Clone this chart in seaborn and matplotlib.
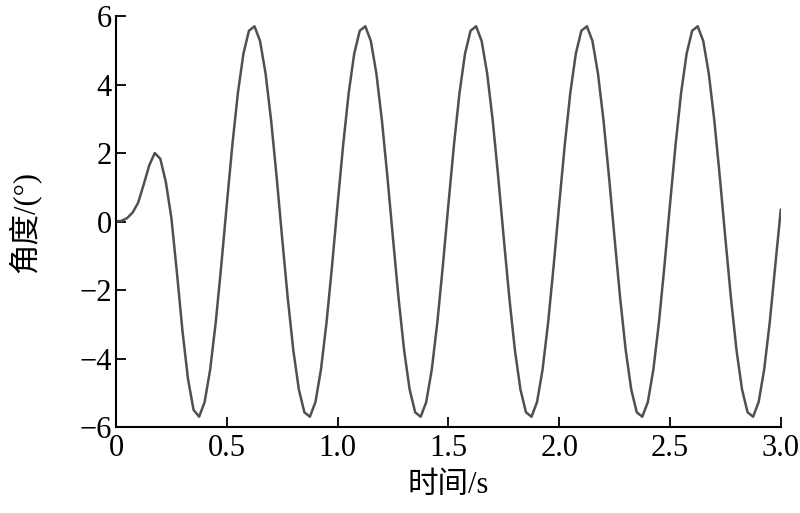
import matplotlib
matplotlib.use("Agg")
import matplotlib.pyplot as plt
import seaborn as sns
import pandas as pd

# sampled time (s)
time_s = [
    0.000, 0.025, 0.050, 0.075, 0.100, 0.125, 0.150, 0.175, 0.200, 0.225,
    0.250, 0.275, 0.300, 0.325, 0.350, 0.375, 0.400, 0.425, 0.450, 0.475,
    0.500, 0.525, 0.550, 0.575, 0.600, 0.625, 0.650, 0.675, 0.700, 0.725,
    0.750, 0.775, 0.800, 0.825, 0.850, 0.875, 0.900, 0.925, 0.950, 0.975,
    1.000, 1.025, 1.050, 1.075, 1.100, 1.125, 1.150, 1.175, 1.200, 1.225,
    1.250, 1.275, 1.300, 1.325, 1.350, 1.375, 1.400, 1.425, 1.450, 1.475,
    1.500, 1.525, 1.550, 1.575, 1.600, 1.625, 1.650, 1.675, 1.700, 1.725,
    1.750, 1.775, 1.800, 1.825, 1.850, 1.875, 1.900, 1.925, 1.950, 1.975,
    2.000, 2.025, 2.050, 2.075, 2.100, 2.125, 2.150, 2.175, 2.200, 2.225,
    2.250, 2.275, 2.300, 2.325, 2.350, 2.375, 2.400, 2.425, 2.450, 2.475,
    2.500, 2.525, 2.550, 2.575, 2.600, 2.625, 2.650, 2.675, 2.700, 2.725,
    2.750, 2.775, 2.800, 2.825, 2.850, 2.875, 2.900, 2.925, 2.950, 2.975,
    3.000,
]

# angle (deg)
angle_deg = [
    0.00, 0.02, 0.10, 0.26, 0.55, 1.08, 1.64, 2.00, 1.83, 1.15,
    0.10, -1.50, -3.20, -4.60, -5.50, -5.70, -5.27, -4.32, -2.95, -1.29,
    0.50, 2.23, 3.75, 4.90, 5.57, 5.70, 5.27, 4.32, 2.95, 1.29,
    -0.50, -2.23, -3.75, -4.90, -5.57, -5.70, -5.27, -4.32, -2.95, -1.29,
    0.50, 2.23, 3.75, 4.90, 5.57, 5.70, 5.27, 4.32, 2.95, 1.29,
    -0.50, -2.23, -3.75, -4.90, -5.57, -5.70, -5.27, -4.32, -2.95, -1.29,
    0.50, 2.23, 3.75, 4.90, 5.57, 5.70, 5.27, 4.32, 2.95, 1.29,
    -0.50, -2.23, -3.75, -4.90, -5.57, -5.70, -5.27, -4.32, -2.95, -1.29,
    0.50, 2.23, 3.75, 4.90, 5.57, 5.70, 5.27, 4.32, 2.95, 1.29,
    -0.50, -2.23, -3.75, -4.90, -5.57, -5.70, -5.27, -4.32, -2.95, -1.29,
    0.50, 2.23, 3.75, 4.90, 5.57, 5.70, 5.27, 4.32, 2.95, 1.29,
    -0.50, -2.23, -3.75, -4.90, -5.57, -5.70, -5.27, -4.32, -2.95, -1.29,
    0.35,
]

x_ticks = [0, 0.5, 1.0, 1.5, 2.0, 2.5, 3.0]
x_tick_labels = ["0", "0.5", "1.0", "1.5", "2.0", "2.5", "3.0"]
y_ticks = [-6, -4, -2, 0, 2, 4, 6]
y_tick_labels = ["\u22126", "\u22124", "\u22122", "0", "2", "4", "6"]
x_label = "时间/s"
y_label = "角度/(°)"

sns.set_theme(style="ticks")
plt.rcParams["font.family"] = ["Liberation Serif", "Noto Sans CJK SC"]
plt.rcParams["axes.unicode_minus"] = True

df = pd.DataFrame({"t": time_s, "angle": angle_deg})

fig = plt.figure(figsize=(8, 5.13), dpi=100)
ax = fig.add_axes([0.145, 0.1676, 0.831, 0.8012])

sns.lineplot(data=df, x="t", y="angle", ax=ax, color="#505050", linewidth=1.8)

ax.set_xlim(0, 3.0)
ax.set_ylim(-6, 6)
ax.set_xticks(x_ticks)
ax.set_xticklabels(x_tick_labels)
ax.set_yticks(y_ticks)
ax.set_yticklabels(y_tick_labels)
ax.tick_params(direction="in", length=7, width=1.3, labelsize=22, colors="black")
ax.tick_params(axis="x", pad=5)
ax.tick_params(axis="y", pad=3)
for s in ["top", "right"]:
    ax.spines[s].set_visible(False)
for s in ["left", "bottom"]:
    ax.spines[s].set_color("black")
    ax.spines[s].set_linewidth(1.5)

ax.set_xlabel(x_label, fontsize=22, color="black", labelpad=6)
ax.set_ylabel(y_label, fontsize=22, color="black", labelpad=28)

fig.savefig("out.png", dpi=100, facecolor="white")
